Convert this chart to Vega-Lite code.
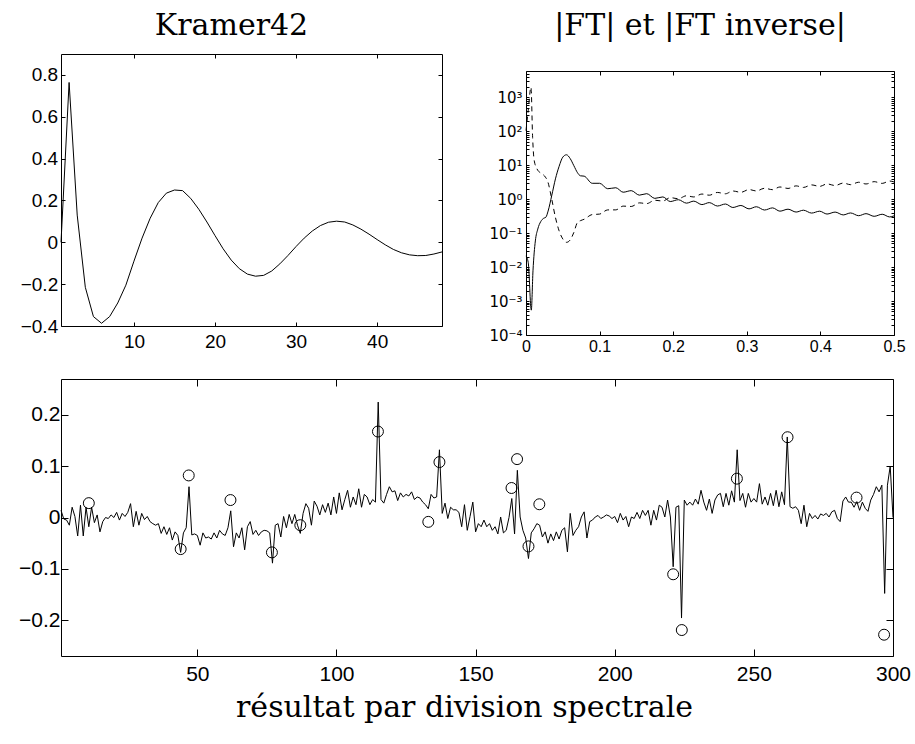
{
"$schema": "https://vega.github.io/schema/vega-lite/v6.json",
"background": "white",
"padding": {"left": 8, "top": 10, "right": 5, "bottom": 5},
"config": {
  "view": {"stroke": "black", "strokeWidth": 1},
  "axis": {"labelFont": "Liberation Sans, DejaVu Sans", "labelColor": "black", "tickColor": "black", "tickWidth": 1, "domain": false, "grid": false, "labelOverlap": false, "labelFlush": false, "labelBound": false, "title": null},
  "title": {"font": "DejaVu Serif", "fontWeight": "normal", "color": "black", "fontSize": 30},
  "line": {"color": "black", "strokeWidth": 1}
},
"vconcat": [
  {
    "hconcat": [
      {
        "width": 381, "height": 272,
        "title": {"text": "Kramer42", "offset": -11, "baseline": "alphabetic", "dx": -20},
        "data": {"values": [
          {"x":1,"y":0.0},{"x":2,"y":0.764},{"x":3,"y":0.13},{"x":4,"y":-0.215},{"x":5,"y":-0.355},{"x":6,"y":-0.387},{"x":7,"y":-0.355},{"x":8,"y":-0.29},{"x":9,"y":-0.205},{"x":10,"y":-0.09},
          {"x":11,"y":0.02},{"x":12,"y":0.115},{"x":13,"y":0.19},{"x":14,"y":0.235},{"x":15,"y":0.25},{"x":16,"y":0.247},{"x":17,"y":0.21},{"x":18,"y":0.158},{"x":19,"y":0.097},{"x":20,"y":0.032},
          {"x":21,"y":-0.031},{"x":22,"y":-0.085},{"x":23,"y":-0.126},{"x":24,"y":-0.152},{"x":25,"y":-0.162},{"x":26,"y":-0.158},{"x":27,"y":-0.137},{"x":28,"y":-0.103},{"x":29,"y":-0.063},{"x":30,"y":-0.02},
          {"x":31,"y":0.02},{"x":32,"y":0.054},{"x":33,"y":0.08},{"x":34,"y":0.096},{"x":35,"y":0.101},{"x":36,"y":0.097},{"x":37,"y":0.083},{"x":38,"y":0.063},{"x":39,"y":0.039},{"x":40,"y":0.013},
          {"x":41,"y":-0.012},{"x":42,"y":-0.034},{"x":43,"y":-0.05},{"x":44,"y":-0.06},{"x":45,"y":-0.064},{"x":46,"y":-0.063},{"x":47,"y":-0.056},{"x":48,"y":-0.046}
        ]},
        "layer": [
          {
            "mark": {"type": "line", "color": "black", "strokeWidth": 1},
            "encoding": {
              "x": {"field": "x", "type": "quantitative", "scale": {"domain": [1, 48], "nice": false, "zero": false},
                    "axis": {"values": [10,20,30,40], "tickSize": -4, "labelPadding": 10.6, "labelFontSize": 19, "format": "d"}},
              "y": {"field": "y", "type": "quantitative", "scale": {"domain": [-0.4, 0.9], "nice": false, "zero": false},
                    "axis": {"values": [-0.4,-0.2,0,0.2,0.4,0.6,0.8], "tickSize": -4, "labelPadding": 7.3, "labelFontSize": 19, "format": "~g", "minExtent": 51.6, "maxExtent": 51.6}}
            }
          },
          {
            "mark": {"type": "line", "opacity": 0},
            "encoding": {
              "x": {"field": "x", "type": "quantitative", "axis": {"orient": "top", "values": [10,20,30,40], "labels": false, "tickSize": -4}},
              "y": {"field": "y", "type": "quantitative", "axis": {"orient": "right", "values": [-0.4,-0.2,0,0.2,0.4,0.6,0.8], "labels": false, "tickSize": -4}}
            }
          }
        ],
        "resolve": {"axis": {"x": "independent", "y": "independent"}}
      },
      {
        "title": {"text": "|FT| et |FT inverse|", "offset": -11, "baseline": "alphabetic", "anchor": "middle", "dx": 3},
        "vconcat": [
          {
            "width": 368, "height": 1,
            "view": {"stroke": null},
            "data": {"values": []},
            "mark": "point"
          },
          {
            "width": 368, "height": 264,
            "layer": [
              {
                "data": {"values": [
                  {"f":0,"a":0.0214},{"f":0.003,"a":0.0138},{"f":0.0072,"a":0.00054},{"f":0.0095,"a":0.0078},{"f":0.0127,"a":0.059},{"f":0.016,"a":0.132},{"f":0.02,"a":0.219},{"f":0.024,"a":0.275},{"f":0.027,"a":0.295},{"f":0.03,"a":0.447},
                  {"f":0.035,"a":1.29},{"f":0.04,"a":3.98},{"f":0.045,"a":9.33},{"f":0.05,"a":17.4},{"f":0.055,"a":20.4},{"f":0.06,"a":15.8},{"f":0.065,"a":9.77},{"f":0.07,"a":6.03},{"f":0.074,"a":4.9},{"f":0.079,"a":4.79},
                  {"f":0.09,"a":2.95},{"f":0.1,"a":2.95},{"f":0.111,"a":2.04},{"f":0.122,"a":2.18},{"f":0.132,"a":1.61},{"f":0.143,"a":1.79},{"f":0.154,"a":1.32},{"f":0.164,"a":1.46},{"f":0.175,"a":1.06},{"f":0.186,"a":1.17},
                  {"f":0.196,"a":0.855},{"f":0.207,"a":0.968},{"f":0.218,"a":0.767},{"f":0.228,"a":0.879},{"f":0.239,"a":0.695},{"f":0.249,"a":0.796},{"f":0.26,"a":0.631},{"f":0.271,"a":0.723},{"f":0.281,"a":0.571},{"f":0.292,"a":0.655},
                  {"f":0.303,"a":0.52},{"f":0.313,"a":0.601},{"f":0.324,"a":0.481},{"f":0.335,"a":0.556},{"f":0.345,"a":0.445},{"f":0.356,"a":0.509},{"f":0.367,"a":0.419},{"f":0.377,"a":0.475},{"f":0.388,"a":0.391},{"f":0.399,"a":0.444},
                  {"f":0.409,"a":0.366},{"f":0.42,"a":0.418},{"f":0.431,"a":0.345},{"f":0.441,"a":0.394},{"f":0.452,"a":0.327},{"f":0.462,"a":0.376},{"f":0.473,"a":0.314},{"f":0.484,"a":0.361},{"f":0.494,"a":0.301},{"f":0.5,"a":0.324}
                ]},
                "mark": {"type": "line", "color": "black", "strokeWidth": 1, "interpolate": "monotone"},
                "encoding": {
                  "x": {"field": "f", "type": "quantitative", "scale": {"domain": [0, 0.5], "nice": false},
                        "axis": {"values": [0,0.1,0.2,0.3,0.4,0.5], "tickSize": -4, "labelPadding": 7.9, "labelFontSize": 16, "format": "~g"}},
                  "y": {"field": "a", "type": "quantitative", "scale": {"type": "log", "domain": [0.0001, 6000], "nice": false},
                        "axis": {"values": [0.0001,0.0002,0.0003,0.0004,0.0005,0.0006,0.0007,0.0008,0.0009,0.001,0.002,0.003,0.004,0.005,0.006,0.007,0.008,0.009,0.01,0.02,0.03,0.04,0.05,0.06,0.07,0.08,0.09,0.1,0.2,0.3,0.4,0.5,0.6,0.7,0.8,0.9,1,2,3,4,5,6,7,8,9,10,20,30,40,50,60,70,80,90,100,200,300,400,500,600,700,800,900,1000,2000,3000,4000,5000],
                                 "tickSize": -3, "labelPadding": 7, "labelFont": "DejaVu Sans", "labelFontSize": 15, "minExtent": 33, "maxExtent": 33,
                                 "labelExpr": "datum.value==1000?'10³':datum.value==100?'10²':datum.value==10?'10¹':datum.value==1?'10⁰':datum.value==0.1?'10⁻¹':datum.value==0.01?'10⁻²':datum.value==0.001?'10⁻³':datum.value==0.0001?'10⁻⁴':''"}}
                }
              },
              {
                "data": {"values": [
                  {"f":0,"a":105},{"f":0.003,"a":407},{"f":0.0068,"a":2000},{"f":0.009,"a":66},{"f":0.011,"a":14.5},{"f":0.015,"a":7.8},{"f":0.02,"a":5.9},{"f":0.025,"a":4.9},{"f":0.03,"a":3.1},{"f":0.035,"a":1.0},
                  {"f":0.04,"a":0.29},{"f":0.045,"a":0.117},{"f":0.05,"a":0.0676},{"f":0.055,"a":0.0537},{"f":0.06,"a":0.063},{"f":0.065,"a":0.105},{"f":0.07,"a":0.209},{"f":0.074,"a":0.234},{"f":0.079,"a":0.257},{"f":0.09,"a":0.353},
                  {"f":0.1,"a":0.365},{"f":0.111,"a":0.485},{"f":0.122,"a":0.486},{"f":0.132,"a":0.627},{"f":0.143,"a":0.612},{"f":0.154,"a":0.782},{"f":0.164,"a":0.743},{"f":0.175,"a":0.933},{"f":0.186,"a":0.887},{"f":0.196,"a":1.112},
                  {"f":0.207,"a":1.037},{"f":0.218,"a":1.265},{"f":0.228,"a":1.167},{"f":0.239,"a":1.422},{"f":0.249,"a":1.315},{"f":0.26,"a":1.585},{"f":0.271,"a":1.449},{"f":0.281,"a":1.75},{"f":0.292,"a":1.6},{"f":0.303,"a":1.928},
                  {"f":0.313,"a":1.754},{"f":0.324,"a":2.104},{"f":0.335,"a":1.914},{"f":0.345,"a":2.296},{"f":0.356,"a":2.08},{"f":0.367,"a":2.472},{"f":0.377,"a":2.228},{"f":0.388,"a":2.649},{"f":0.399,"a":2.388},{"f":0.409,"a":2.825},
                  {"f":0.42,"a":2.535},{"f":0.431,"a":2.999},{"f":0.441,"a":2.685},{"f":0.452,"a":3.17},{"f":0.462,"a":2.818},{"f":0.473,"a":3.296},{"f":0.484,"a":2.931},{"f":0.494,"a":3.436},{"f":0.5,"a":3.236}
                ]},
                "mark": {"type": "line", "color": "black", "strokeWidth": 1, "strokeDash": [5, 4], "interpolate": "monotone"},
                "encoding": {
                  "x": {"field": "f", "type": "quantitative", "axis": {"orient": "top", "values": [0,0.1,0.2,0.3,0.4,0.5], "labels": false, "tickSize": -4}},
                  "y": {"field": "a", "type": "quantitative",
                        "axis": {"orient": "right", "values": [0.0001,0.0002,0.0003,0.0004,0.0005,0.0006,0.0007,0.0008,0.0009,0.001,0.002,0.003,0.004,0.005,0.006,0.007,0.008,0.009,0.01,0.02,0.03,0.04,0.05,0.06,0.07,0.08,0.09,0.1,0.2,0.3,0.4,0.5,0.6,0.7,0.8,0.9,1,2,3,4,5,6,7,8,9,10,20,30,40,50,60,70,80,90,100,200,300,400,500,600,700,800,900,1000,2000,3000,4000,5000], "labels": false, "tickSize": -3}}
                }
              }
            ],
            "resolve": {"axis": {"x": "independent", "y": "independent"}}
          }
        ],
        "spacing": 11
      }
    ],
    "spacing": 43
  },
  {
    "width": 832, "height": 277,
    "layer": [
      {
        "data": {"values": [
          {"x":1,"y":0.014},{"x":2,"y":-0.003},{"x":3,"y":-0.005},{"x":4,"y":-0.015},{"x":5,"y":0.02},{"x":6,"y":0.002},{"x":7,"y":-0.036},{"x":8,"y":0.024},{"x":9,"y":-0.036},{"x":10,"y":0.02},
          {"x":11,"y":-0.018},{"x":12,"y":0.02},{"x":13,"y":-0.01},{"x":14,"y":0.005},{"x":15,"y":-0.028},{"x":16,"y":-0.008},{"x":17,"y":0.0},{"x":18,"y":-0.002},{"x":19,"y":0.005},{"x":20,"y":0.0},
          {"x":21,"y":0.01},{"x":22,"y":-0.005},{"x":23,"y":0.008},{"x":24,"y":0.002},{"x":25,"y":0.01},{"x":26,"y":0.027},{"x":27,"y":-0.018},{"x":28,"y":0.012},{"x":29,"y":-0.015},{"x":30,"y":0.008},
          {"x":31,"y":-0.004},{"x":32,"y":0.002},{"x":33,"y":-0.008},{"x":34,"y":-0.012},{"x":35,"y":-0.015},{"x":36,"y":-0.012},{"x":37,"y":-0.031},{"x":38,"y":-0.018},{"x":39,"y":-0.033},{"x":40,"y":-0.02},
          {"x":41,"y":-0.044},{"x":42,"y":-0.028},{"x":43,"y":-0.035},{"x":44,"y":-0.068},{"x":45,"y":-0.03},{"x":46,"y":-0.02},{"x":47,"y":0.06},{"x":48,"y":-0.034},{"x":49,"y":-0.032},{"x":50,"y":-0.035},
          {"x":51,"y":-0.054},{"x":52,"y":-0.03},{"x":53,"y":-0.04},{"x":54,"y":-0.038},{"x":55,"y":-0.042},{"x":56,"y":-0.03},{"x":57,"y":-0.04},{"x":58,"y":-0.025},{"x":59,"y":-0.032},{"x":60,"y":-0.035},
          {"x":61,"y":-0.02},{"x":62,"y":0.013},{"x":63,"y":-0.057},{"x":64,"y":-0.03},{"x":65,"y":-0.04},{"x":66,"y":-0.02},{"x":67,"y":-0.063},{"x":68,"y":-0.018},{"x":69,"y":-0.008},{"x":70,"y":-0.033},
          {"x":71,"y":-0.025},{"x":72,"y":-0.035},{"x":73,"y":-0.028},{"x":74,"y":-0.025},{"x":75,"y":-0.026},{"x":76,"y":-0.03},{"x":77,"y":-0.089},{"x":78,"y":-0.015},{"x":79,"y":-0.012},{"x":80,"y":-0.038},
          {"x":81,"y":0.002},{"x":82,"y":-0.02},{"x":83,"y":0.006},{"x":84,"y":-0.012},{"x":85,"y":0.006},{"x":86,"y":-0.015},{"x":87,"y":-0.031},{"x":88,"y":0.008},{"x":89,"y":0.027},{"x":90,"y":0.018},
          {"x":91,"y":-0.015},{"x":92,"y":0.032},{"x":93,"y":0.022},{"x":94,"y":0.005},{"x":95,"y":0.025},{"x":96,"y":0.01},{"x":97,"y":0.028},{"x":98,"y":0.005},{"x":99,"y":0.04},{"x":100,"y":0.008},
          {"x":101,"y":0.048},{"x":102,"y":0.015},{"x":103,"y":0.035},{"x":104,"y":0.053},{"x":105,"y":0.02},{"x":106,"y":0.04},{"x":107,"y":0.025},{"x":108,"y":0.056},{"x":109,"y":0.02},{"x":110,"y":0.045},
          {"x":111,"y":0.04},{"x":112,"y":0.025},{"x":113,"y":0.035},{"x":114,"y":0.03},{"x":115,"y":0.225},{"x":116,"y":0.035},{"x":117,"y":0.028},{"x":118,"y":0.045},{"x":119,"y":0.06},{"x":120,"y":0.05},
          {"x":121,"y":0.052},{"x":122,"y":0.033},{"x":123,"y":0.048},{"x":124,"y":0.04},{"x":125,"y":0.045},{"x":126,"y":0.042},{"x":127,"y":0.05},{"x":128,"y":0.035},{"x":129,"y":0.04},{"x":130,"y":0.038},
          {"x":131,"y":0.03},{"x":132,"y":0.025},{"x":133,"y":0.017},{"x":134,"y":0.045},{"x":135,"y":0.038},{"x":136,"y":0.04},{"x":137,"y":0.132},{"x":138,"y":0.008},{"x":139,"y":0.028},{"x":140,"y":-0.002},
          {"x":141,"y":0.02},{"x":142,"y":0.015},{"x":143,"y":0.015},{"x":144,"y":0.01},{"x":145,"y":-0.018},{"x":146,"y":0.025},{"x":147,"y":-0.025},{"x":148,"y":0.002},{"x":149,"y":0.03},{"x":150,"y":-0.028},
          {"x":151,"y":-0.012},{"x":152,"y":-0.018},{"x":153,"y":-0.005},{"x":154,"y":-0.018},{"x":155,"y":-0.012},{"x":156,"y":-0.025},{"x":157,"y":-0.018},{"x":158,"y":-0.032},{"x":159,"y":0.001},{"x":160,"y":-0.03},
          {"x":161,"y":-0.025},{"x":162,"y":0.0},{"x":163,"y":0.037},{"x":164,"y":-0.032},{"x":165,"y":0.092},{"x":166,"y":0.001},{"x":167,"y":-0.025},{"x":168,"y":-0.04},{"x":169,"y":-0.08},{"x":170,"y":-0.03},
          {"x":171,"y":-0.022},{"x":172,"y":-0.012},{"x":173,"y":-0.015},{"x":174,"y":-0.038},{"x":175,"y":-0.028},{"x":176,"y":-0.05},{"x":177,"y":-0.032},{"x":178,"y":-0.045},{"x":179,"y":-0.028},{"x":180,"y":-0.042},
          {"x":181,"y":-0.025},{"x":182,"y":-0.02},{"x":183,"y":-0.067},{"x":184,"y":0.008},{"x":185,"y":-0.035},{"x":186,"y":-0.025},{"x":187,"y":-0.018},{"x":188,"y":0.001},{"x":189,"y":0.011},{"x":190,"y":-0.04},
          {"x":191,"y":-0.008},{"x":192,"y":-0.005},{"x":193,"y":0.001},{"x":194,"y":0.004},{"x":195,"y":-0.002},{"x":196,"y":0.001},{"x":197,"y":0.005},{"x":198,"y":0.003},{"x":199,"y":-0.002},{"x":200,"y":0.002},
          {"x":201,"y":-0.01},{"x":202,"y":0.008},{"x":203,"y":-0.005},{"x":204,"y":0.002},{"x":205,"y":-0.018},{"x":206,"y":0.001},{"x":207,"y":-0.002},{"x":208,"y":0.01},{"x":209,"y":-0.002},{"x":210,"y":0.014},
          {"x":211,"y":0.004},{"x":212,"y":0.014},{"x":213,"y":-0.015},{"x":214,"y":0.014},{"x":215,"y":-0.005},{"x":216,"y":0.024},{"x":217,"y":0.02},{"x":218,"y":0.001},{"x":219,"y":0.034},{"x":220,"y":0.001},
          {"x":221,"y":-0.096},{"x":222,"y":0.02},{"x":223,"y":0.023},{"x":224,"y":-0.196},{"x":225,"y":0.034},{"x":226,"y":0.024},{"x":227,"y":0.03},{"x":228,"y":0.024},{"x":229,"y":0.036},{"x":230,"y":0.026},
          {"x":231,"y":0.053},{"x":232,"y":0.03},{"x":233,"y":0.014},{"x":234,"y":0.036},{"x":235,"y":0.008},{"x":236,"y":0.034},{"x":237,"y":0.044},{"x":238,"y":0.047},{"x":239,"y":0.021},{"x":240,"y":0.047},
          {"x":241,"y":0.024},{"x":242,"y":0.052},{"x":243,"y":0.03},{"x":244,"y":0.132},{"x":245,"y":0.033},{"x":246,"y":0.047},{"x":247,"y":0.02},{"x":248,"y":0.047},{"x":249,"y":0.03},{"x":250,"y":0.037},
          {"x":251,"y":0.03},{"x":252,"y":0.066},{"x":253,"y":0.026},{"x":254,"y":0.04},{"x":255,"y":0.024},{"x":256,"y":0.047},{"x":257,"y":0.023},{"x":258,"y":0.053},{"x":259,"y":0.021},{"x":260,"y":0.05},
          {"x":261,"y":0.025},{"x":262,"y":0.157},{"x":263,"y":0.021},{"x":264,"y":0.018},{"x":265,"y":0.021},{"x":266,"y":0.014},{"x":267,"y":-0.012},{"x":268,"y":0.024},{"x":269,"y":-0.018},{"x":270,"y":0.008},
          {"x":271,"y":-0.002},{"x":272,"y":0.004},{"x":273,"y":-0.003},{"x":274,"y":0.007},{"x":275,"y":0.004},{"x":276,"y":0.008},{"x":277,"y":0.001},{"x":278,"y":0.011},{"x":279,"y":0.014},{"x":280,"y":-0.002},
          {"x":281,"y":-0.008},{"x":282,"y":0.032},{"x":283,"y":0.04},{"x":284,"y":0.03},{"x":285,"y":0.03},{"x":286,"y":0.02},{"x":287,"y":0.031},{"x":288,"y":0.014},{"x":289,"y":0.03},{"x":290,"y":0.018},
          {"x":291,"y":0.012},{"x":292,"y":0.034},{"x":293,"y":0.045},{"x":294,"y":0.06},{"x":295,"y":0.05},{"x":296,"y":0.063},{"x":297,"y":-0.148},{"x":298,"y":0.063},{"x":299,"y":0.1},{"x":300,"y":0.0}
        ]},
        "mark": {"type": "line", "color": "black", "strokeWidth": 1},
        "encoding": {
          "x": {"field": "x", "type": "quantitative", "scale": {"domain": [1, 300], "nice": false, "zero": false},
                "axis": {"values": [50,100,150,200,250,300], "tickSize": -7, "labelPadding": 14, "labelFontSize": 21, "format": "d",
                         "title": "résultat par division spectrale", "titleFont": "DejaVu Serif", "titleFontSize": 30, "titleFontWeight": "normal", "titleColor": "black", "titlePadding": 8, "titleX": 403}},
          "y": {"field": "y", "type": "quantitative", "scale": {"domain": [-0.27, 0.27], "nice": false, "zero": false},
                "axis": {"values": [-0.2,-0.1,0,0.1,0.2], "tickSize": -7, "labelPadding": 8, "labelFontSize": 21, "format": "~g", "minExtent": 48.6, "maxExtent": 48.6}}
        }
      },
      {
        "mark": {"type": "rule", "color": "black", "strokeWidth": 1},
        "encoding": {"y": {"datum": 0, "type": "quantitative", "axis": null}}
      },
      {
        "data": {"values": [
          {"x":11.0,"y":0.028},{"x":44.0,"y":-0.0616},{"x":46.9,"y":0.082},{"x":61.9,"y":0.034},{"x":76.8,"y":-0.068},{"x":87.0,"y":-0.015},
          {"x":114.9,"y":0.1676},{"x":133.0,"y":-0.0085},{"x":137.0,"y":0.108},{"x":162.9,"y":0.0575},{"x":164.9,"y":0.1138},{"x":169.0,"y":-0.0563},{"x":172.9,"y":0.0258},
          {"x":221.0,"y":-0.1107},{"x":224.1,"y":-0.2194},{"x":243.9,"y":0.0757},{"x":262.1,"y":0.1565},{"x":286.9,"y":0.0388},{"x":296.8,"y":-0.2285}
        ]},
        "mark": {"type": "point", "shape": "circle", "filled": false, "size": 120, "stroke": "black", "strokeWidth": 1, "opacity": 1},
        "encoding": {
          "x": {"field": "x", "type": "quantitative", "axis": {"orient": "top", "values": [50,100,150,200,250,300], "labels": false, "tickSize": -7}},
          "y": {"field": "y", "type": "quantitative", "axis": {"orient": "right", "values": [-0.2,-0.1,0,0.1,0.2], "labels": false, "tickSize": -7}}
        }
      }
    ],
    "resolve": {"axis": {"x": "independent", "y": "independent"}}
  }
],
"spacing": 22
}
